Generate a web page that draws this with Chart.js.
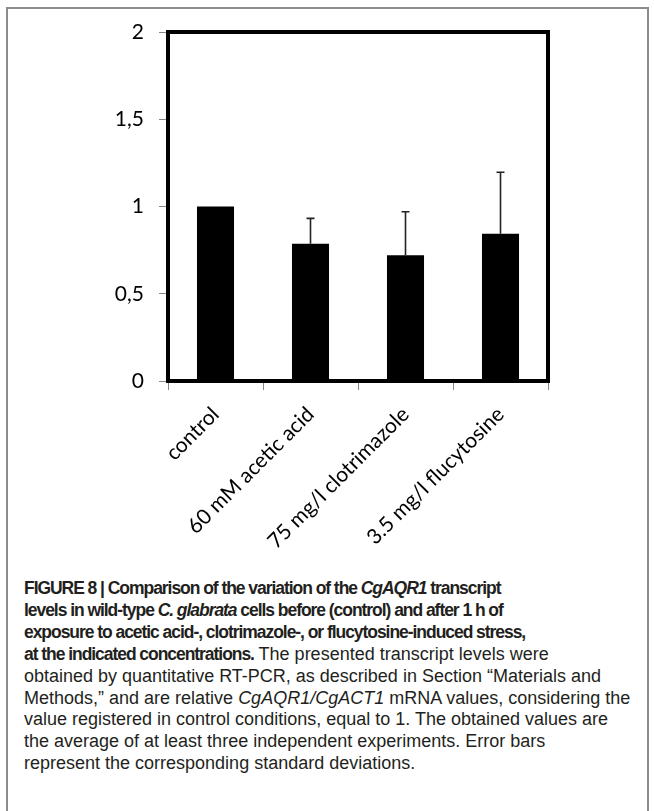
<!DOCTYPE html>
<html>
<head>
<meta charset="utf-8">
<script src="https://cdn.jsdelivr.net/npm/chart.js@4"></script>
<style>
  body { margin: 0; background: #fff; width: 654px; height: 811px; overflow: hidden; position: relative; }
  #frame { position: absolute; left: 6px; top: 7px; width: 639px; height: 830px; border: 2px solid #8c8c8c; }
  #chartBox { position: absolute; left: 0; top: 0; width: 654px; height: 560px; }
  #caption {
    position: absolute; left: 24px; top: 578px;
    font-family: "Liberation Sans", Arial, sans-serif;
    font-size: 18px; line-height: 21.9px; color: #231f20; white-space: nowrap;
  }
  #caption b { font-size: 17.5px; letter-spacing: -1.05px; }
</style>
</head>
<body>
<div id="frame"></div>
<div id="chartBox"><canvas id="barChart"></canvas></div>
<div id="caption">
<b>FIGURE 8 | Comparison of the variation of the <i>CgAQR1</i> transcript</b><br>
<b>levels in wild-type <i>C. glabrata</i> cells before (control) and after 1 h of</b><br>
<b>exposure to acetic acid-, clotrimazole-, or flucytosine-induced stress,</b><br>
<b>at the indicated concentrations.</b> The presented transcript levels were<br>
obtained by quantitative RT-PCR, as described in Section “Materials and<br>
Methods,” and are relative <i>CgAQR1/CgACT1</i> mRNA values, considering the<br>
value registered in control conditions, equal to 1. The obtained values are<br>
the average of at least three independent experiments. Error bars<br>
represent the corresponding standard deviations.
</div>
<script>
// data
const conditions = ["control", "60 mM acetic acid", "75 mg/l clotrimazole", "3.5 mg/l flucytosine"];
const relExpression = [1.0, 0.787, 0.721, 0.844];
const stdDev = [0, 0.145, 0.249, 0.352];
const yTicks = [0, 0.5, 1, 1.5, 2];

// box around the plot area
const plotBox = {
  id: "plotBox",
  afterDatasetsDraw(chart) {
    const a = chart.chartArea;
    const c = chart.ctx;
    c.save();
    c.strokeStyle = "#000";
    c.lineWidth = 4;
    c.strokeRect(a.left, a.top, a.right - a.left, a.bottom - a.top);
    c.restore();
  },
};

// upper error bars only
const errorBars = {
  id: "errorBars",
  afterDatasetsDraw(chart) {
    const c = chart.ctx;
    const y = chart.scales.y;
    const meta = chart.getDatasetMeta(0);
    c.save();
    c.strokeStyle = "#222";
    c.lineWidth = 1.6;
    meta.data.forEach((bar, i) => {
      if (!stdDev[i]) return;
      const top = y.getPixelForValue(relExpression[i] + stdDev[i]);
      c.beginPath();
      c.moveTo(bar.x, bar.y);
      c.lineTo(bar.x, top);
      c.moveTo(bar.x - 4, top);
      c.lineTo(bar.x + 4, top);
      c.stroke();
    });
    c.restore();
  },
};

const tickFont = { family: "Lato", size: 21 };

new Chart(document.getElementById("barChart"), {
  type: "bar",
  data: {
    labels: conditions,
    datasets: [{
      data: relExpression,
      backgroundColor: "#000",
      borderWidth: 0,
      barPercentage: 0.39,
      categoryPercentage: 1,
    }],
  },
  options: {
    responsive: true,
    maintainAspectRatio: false,
    animation: false,
    layout: { padding: { top: 32, right: 106, left: 0, bottom: 0 } },
    plugins: { legend: { display: false }, tooltip: { enabled: false } },
    scales: {
      x: {
        offset: true,
        grid: { offset: true, drawOnChartArea: false, drawTicks: true, tickLength: 9, color: "#888" },
        border: { display: false },
        ticks: { color: "#000", font: tickFont, minRotation: 45, maxRotation: 45, padding: 12 },
        afterFit(scale) { scale.height = 179; },
      },
      y: {
        min: 0,
        max: 2,
        afterBuildTicks(scale) { scale.ticks = yTicks.map((v) => ({ value: v })); },
        grid: { drawOnChartArea: false, drawTicks: true, tickLength: 9, color: "#888" },
        border: { display: false },
        ticks: {
          color: "#000",
          font: tickFont,
          padding: 15,
          callback: (v) => String(v).replace(".", ","),
        },
        afterFit(scale) { scale.width = 168; },
      },
    },
  },
  plugins: [plotBox, errorBars],
});
</script>
</body>
</html>
